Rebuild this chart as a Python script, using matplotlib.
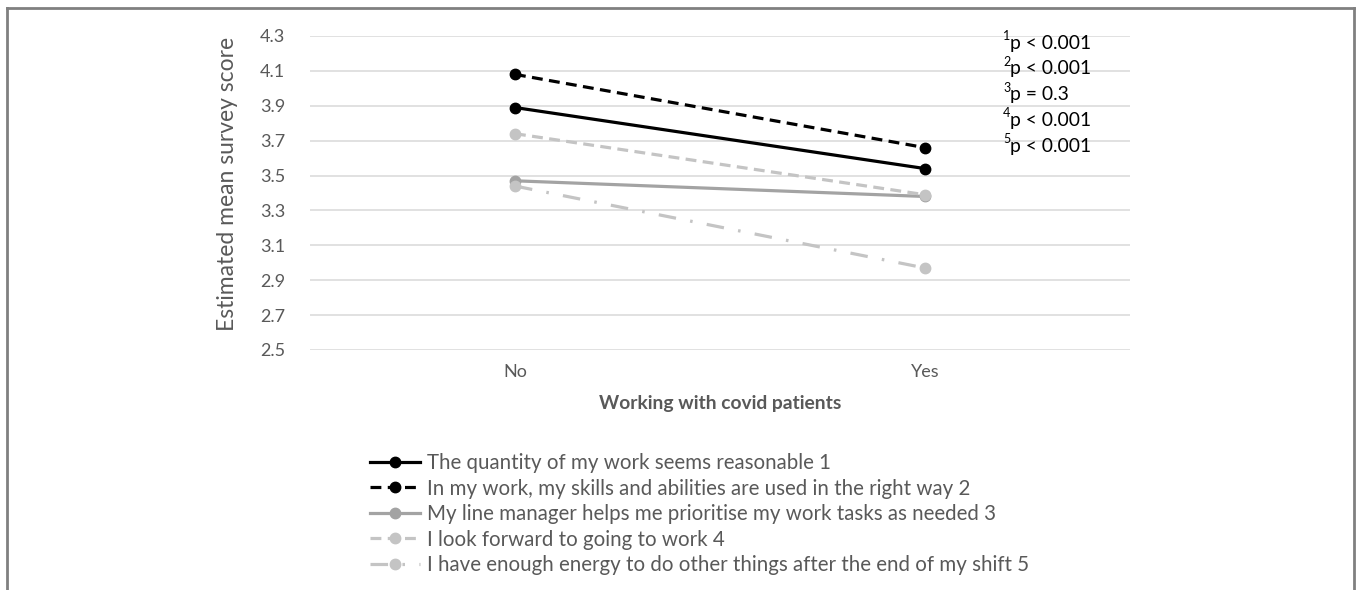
"""Estimated mean survey score by working with covid patients (No / Yes)."""
import matplotlib
matplotlib.use("Agg")
import matplotlib.pyplot as plt
from matplotlib.lines import Line2D

plt.rcParams.update({
    "font.family": ["Lato", "DejaVu Sans"],
    "text.color": "#595959",
    "axes.labelcolor": "#595959",
    "xtick.color": "#595959",
    "ytick.color": "#595959",
})

CATEGORIES = ["No", "Yes"]
SERIES_LABELS = [
    "The quantity of my work seems reasonable 1",
    "In my work, my skills and abilities are used in the right way 2",
    "My line manager helps me prioritise my work tasks as needed 3",
    "I look forward to going to work 4",
    "I have enough energy to do other things after the end of my shift 5",
]
QUANTITY = [3.89, 3.54]
SKILLS = [4.08, 3.66]
MANAGER = [3.47, 3.38]
LOOK_FORWARD = [3.74, 3.39]
ENERGY = [3.44, 2.97]
Y_TICKS = [2.5, 2.7, 2.9, 3.1, 3.3, 3.5, 3.7, 3.9, 4.1, 4.3]
P_SUPERS = ["1", "2", "3", "4", "5"]
P_TEXTS = ["p < 0.001", "p < 0.001", "p = 0.3", "p < 0.001", "p < 0.001"]

STYLES = [
    dict(color="#000000", ls="-"),
    dict(color="#000000", ls=(0, (3.4, 2.0))),
    dict(color="#A3A3A3", ls="-"),
    dict(color="#C4C4C4", ls=(0, (3.4, 2.0))),
    dict(color="#C4C4C4", ls=(0, (5.5, 4.5, 0.8, 4.5))),
]

fig = plt.figure(figsize=(13.57, 5.9), dpi=100)
ax = fig.add_axes([310 / 1357, 1 - 350 / 590, 820 / 1357, 314 / 590])

x = list(range(len(CATEGORIES)))
handles = []
for vals, label, st in zip([QUANTITY, SKILLS, MANAGER, LOOK_FORWARD, ENERGY], SERIES_LABELS, STYLES):
    h, = ax.plot(x, vals, color=st["color"], linestyle=st["ls"], linewidth=2.3,
                 marker="o", markersize=7.5, label=label, zorder=3)
    handles.append(h)

ax.set_xlim(-0.5, 1.5)
ax.set_ylim(2.5, 4.3)
ax.set_yticks(Y_TICKS)
ax.set_yticklabels([f"{t:.1f}" for t in Y_TICKS], fontsize=13)
ax.set_xticks(x)
ax.set_xticklabels(CATEGORIES, fontsize=13)
ax.tick_params(length=0, pad=18)
ax.tick_params(axis="x", pad=10)
ax.yaxis.grid(True, color="#D9D9D9", linewidth=1.1)
ax.set_axisbelow(True)
for s in ax.spines.values():
    s.set_visible(False)

ax.set_ylabel("Estimated mean survey score", fontsize=16.5)
ax.yaxis.set_label_coords(-0.088, 0.53)
ax.set_xlabel("Working with covid patients", fontsize=13.9, fontweight="bold", labelpad=11)

# p-value annotations with superscript digits
for i, (sup, txt) in enumerate(zip(P_SUPERS, P_TEXTS)):
    yy = 1 - (43 + i * 25.8) / 590
    fig.text(1003 / 1357, yy + 0.012, sup, fontsize=9, color="#000000", va="center")
    fig.text(1010 / 1357, yy, txt, fontsize=13.9, color="#000000", va="center")

leg = fig.legend(handles=handles, loc="upper left", bbox_to_anchor=(370 / 1357, 1 - 453 / 590),
                 frameon=False, fontsize=14.8, handlelength=2.45, handletextpad=0.3,
                 labelspacing=0.27, borderaxespad=0, borderpad=0)

# outer frame (open at the bottom)
frame_kw = dict(transform=fig.transFigure, color="#808080", linewidth=2)
fig.add_artist(Line2D([7 / 1357, 7 / 1357], [0, 1 - 8 / 590], **frame_kw))
fig.add_artist(Line2D([7 / 1357, 1354 / 1357], [1 - 8 / 590, 1 - 8 / 590], **frame_kw))
fig.add_artist(Line2D([1354 / 1357, 1354 / 1357], [0, 1 - 8 / 590], **frame_kw))

fig.savefig("out.png", dpi=100)
